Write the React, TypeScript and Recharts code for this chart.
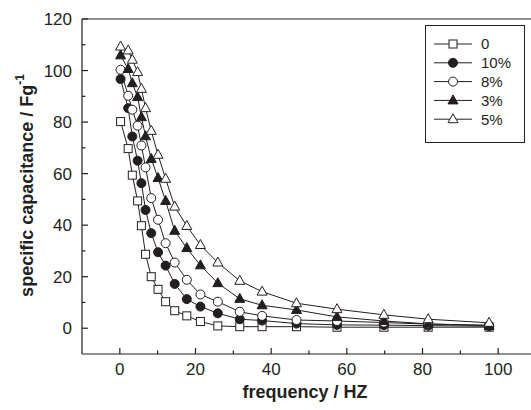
import React from 'react';
import { LineChart, Line, XAxis, YAxis, ReferenceLine, Label, Legend } from 'recharts';

// frequency (Hz) points, shared by all samples
const frequency = [0.2, 2.2, 3.3, 4.7, 5.7, 6.8, 8.3, 10.1, 12.1, 14.5, 17.7, 21.3, 25.9, 31.7, 37.6, 46.7, 57.4, 69.8, 81.5, 97.6];

// specific capacitance (F/g) per doping level
const cap0 = [80.2, 69.7, 59.4, 49.4, 39.8, 28.7, 20.0, 15.1, 10.3, 6.8, 4.8, 2.6, 0.9, 0.6, 0.6, 0.6, 0.4, 0.4, 0.4, 0.4];
const cap10 = [96.7, 85.4, 74.4, 65.0, 56.3, 45.9, 36.9, 29.5, 24.3, 17.2, 11.3, 8.4, 5.8, 3.5, 3.0, 1.8, 1.3, 1.2, 1.0, 0.8];
const cap8 = [100.3, 90.2, 84.8, 78.6, 70.9, 62.4, 50.5, 42.1, 33.0, 25.5, 18.8, 13.1, 10.3, 6.4, 4.8, 3.2, 2.8, 2.2, 1.6, 1.2];
const cap3 = [105.9, 100.6, 95.1, 89.7, 81.9, 74.5, 65.7, 58.3, 49.4, 37.8, 31.1, 24.4, 17.5, 11.4, 8.9, 7.1, 4.4, 2.8, 1.7, 0.9];
const cap5 = [109.3, 107.8, 104.2, 99.4, 92.9, 85.4, 76.6, 67.3, 58.0, 47.2, 39.7, 32.3, 25.5, 18.4, 14.2, 9.7, 7.4, 5.2, 3.5, 2.1];

const seriesNames = ['0', '10%', '8%', '3%', '5%'];
const seriesKeys = ['s0', 's10', 's8', 's3', 's5'];
const seriesShapes = ['square', 'dot', 'circle', 'tri', 'openTri'];

const xTicks = [0, 10, 20, 30, 40, 50, 60, 70, 80, 90, 100];
const yTicks = [0, 10, 20, 30, 40, 50, 60, 70, 80, 90, 100, 110, 120];

const data = frequency.map((f, i) => ({
  f,
  s0: cap0[i],
  s10: cap10[i],
  s8: cap8[i],
  s3: cap3[i],
  s5: cap5[i],
}));

const INK = '#231f20';
const FONT = '"Liberation Sans", Arial, sans-serif';

function Marker({ shape, cx, cy }: { shape: string; cx: number; cy: number }) {
  if (cx == null || cy == null) return null;
  switch (shape) {
    case 'square':
      return <rect x={cx - 4} y={cy - 4} width={8} height={8} fill="#fff" stroke={INK} strokeWidth={1} />;
    case 'dot':
      return <circle cx={cx} cy={cy} r={4.5} fill={INK} stroke={INK} strokeWidth={1} />;
    case 'circle':
      return <circle cx={cx} cy={cy} r={4.5} fill="#fff" stroke={INK} strokeWidth={1} />;
    case 'tri':
      return <polygon points={`${cx},${cy - 5.5} ${cx - 5},${cy + 3.5} ${cx + 5},${cy + 3.5}`} fill={INK} stroke={INK} strokeWidth={1} />;
    default:
      return <polygon points={`${cx},${cy - 5.5} ${cx - 5},${cy + 3.5} ${cx + 5},${cy + 3.5}`} fill="#fff" stroke={INK} strokeWidth={1} />;
  }
}

const XTick = (props: any) => {
  const { x, y, payload } = props;
  const major = payload.value % 20 === 0;
  const axisY = y - 7;
  return (
    <g>
      <line x1={x} x2={x} y1={axisY} y2={axisY - (major ? 6 : 3.5)} stroke={INK} strokeWidth={1.2} />
      {major && (
        <text x={x} y={y} dy="0.8em" textAnchor="middle" fontSize={17} fontFamily={FONT} fill={INK}>
          {payload.value}
        </text>
      )}
    </g>
  );
};

const YTick = (props: any) => {
  const { x, y, payload } = props;
  const major = payload.value % 20 === 0;
  const axisX = x + 10;
  return (
    <g>
      <line x1={axisX} x2={axisX + (major ? 6 : 3.5)} y1={y} y2={y} stroke={INK} strokeWidth={1.2} />
      {major && (
        <text x={x} y={y} dy="0.36em" textAnchor="end" fontSize={17} fontFamily={FONT} fill={INK}>
          {payload.value}
        </text>
      )}
    </g>
  );
};

const YTitle = (props: any) => {
  const { viewBox } = props;
  const cx = viewBox.x + 27;
  const cy = viewBox.y + viewBox.height / 2 - 1;
  return (
    <text
      x={cx}
      y={cy}
      transform={`rotate(-90 ${cx} ${cy})`}
      textAnchor="middle"
      dominantBaseline="central"
      fontSize={18}
      fontWeight="bold"
      fontFamily={FONT}
      fill={INK}
    >
      specific capacitance / Fg
      <tspan dy={-7} fontSize={12}>-1</tspan>
    </text>
  );
};

const XTitle = (props: any) => {
  const { viewBox } = props;
  const cx = viewBox.x + viewBox.width / 2 - 4;
  return (
    <text x={cx} y={viewBox.y + 38} textAnchor="middle" dominantBaseline="central" fontSize={18} fontWeight="bold" fontFamily={FONT} fill={INK}>
      frequency / HZ
    </text>
  );
};

const LegendBox = () => (
  <div style={{ width: 100, height: 118, border: `1px solid ${INK}`, boxSizing: 'border-box', background: '#fff' }}>
    <svg width={98} height={116}>
      {seriesNames.map((name, i) => {
        const cy = 18 + i * 18.8;
        return (
          <g key={name}>
            <line x1={8} x2={46} y1={cy} y2={cy} stroke={INK} strokeWidth={1} />
            <Marker shape={seriesShapes[i]} cx={27} cy={cy} />
            <text x={55} y={cy} dy="0.36em" fontSize={15} fontFamily={FONT} fill={INK}>
              {name}
            </text>
          </g>
        );
      })}
    </svg>
  </div>
);

export default function App() {
  return (
    <div style={{ position: 'absolute', left: 0, top: 0, width: 531, height: 410, overflow: 'hidden', background: '#fff' }}>
      <LineChart width={540} height={410} data={data} margin={{ top: 19, right: 4, bottom: 0, left: 0 }}>
        <XAxis
          dataKey="f"
          type="number"
          domain={[-10, 110]}
          ticks={xTicks}
          interval={0}
          tickSize={0}
          tickMargin={7}
          tickLine={false}
          tick={<XTick />}
          height={56}
          axisLine={{ stroke: INK, strokeWidth: 1.2 }}
        >
          <Label content={<XTitle />} />
        </XAxis>
        <YAxis
          type="number"
          domain={[-10, 120]}
          ticks={yTicks}
          interval={0}
          tickSize={0}
          tickMargin={10}
          tickLine={false}
          tick={<YTick />}
          width={82}
          axisLine={{ stroke: INK, strokeWidth: 1.2 }}
        >
          <Label content={<YTitle />} />
        </YAxis>
        <ReferenceLine y={120} stroke={INK} strokeWidth={1.2} />
        {seriesKeys.map((key, i) => (
          <Line
            key={key}
            dataKey={key}
            name={seriesNames[i]}
            type="linear"
            stroke={INK}
            strokeWidth={1}
            isAnimationActive={false}
            dot={(p: any) => <Marker key={`${key}-${p.index}`} shape={seriesShapes[i]} cx={p.cx} cy={p.cy} />}
            activeDot={false}
          />
        ))}
        <Legend
          layout="vertical"
          align="center"
          verticalAlign="middle"
          content={<LegendBox />}
          wrapperStyle={{ left: 425, top: 25, width: 100, height: 118 }}
        />
      </LineChart>
    </div>
  );
}
